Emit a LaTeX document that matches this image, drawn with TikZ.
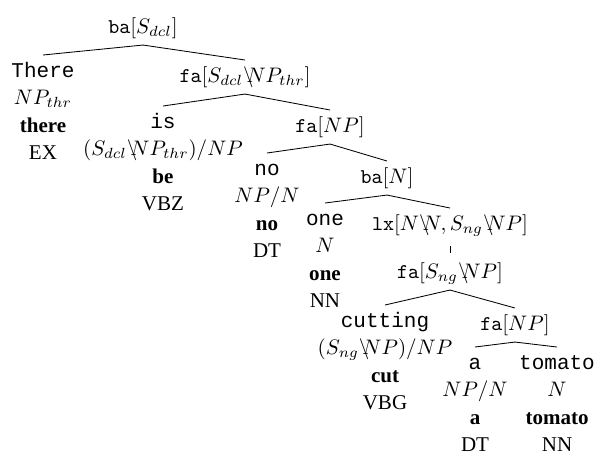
\documentclass[tikz,border=0pt]{standalone}
\usepackage{fontspec}
\setmainfont{Liberation Serif}
\newfontfamily\tokfont{Liberation Mono}
\newcommand{\tok}[1]{{\tokfont #1}}
\newcommand{\comb}[2]{\strut\texttt{#1}$[#2]$}
\newcommand{\leaf}[4]{\strut\tok{#1}\\ $#2$\\ \textbf{#3}\\ #4}
\newcommand{\bs}{\backslash\mkern-6mu}

\begin{document}
\begin{tikzpicture}[x=0.476pt,y=-0.476pt,
   every node/.style={anchor=north,inner sep=1.4pt,align=center,
      font=\fontsize{10}{13}\selectfont}]
   \useasboundingbox (0,0) rectangle (595,454);
   \node (root)    at (143,11)  {\comb{ba}{S_{dcl}}};
   \node (there)   at (43,55)   {\leaf{There}{NP_{thr}}{there}{EX}};
   \node (fadcl)   at (245,60)  {\comb{fa}{S_{dcl}\bs NP_{thr}}};
   \node (is)      at (163,106) {\leaf{is}{(S_{dcl}\bs NP_{thr})/NP}{be}{VBZ}};
   \node (fanp)    at (330,110) {\comb{fa}{NP}};
   \node (no)      at (267,153) {\leaf{no}{NP/N}{no}{DT}};
   \node (ban)     at (387,161) {\comb{ba}{N}};
   \node (one)     at (325,203) {\leaf{one}{N}{one}{NN}};
   \node (lx)      at (450,208) {\comb{lx}{N\bs N, S_{ng}\bs NP}};
   \node (fang)    at (450,256) {\comb{fa}{S_{ng}\bs NP}};
   \node (cutting) at (385,305) {\leaf{cutting}{(S_{ng}\bs NP)/NP}{cut}{VBG}};
   \node (fanpb)   at (515,308) {\comb{fa}{NP}};
   \node (a)       at (475,347) {\leaf{a}{NP/N}{a}{DT}};
   \node (tomato)  at (557,347) {\leaf{tomato}{N}{tomato}{NN}};
   \draw (root.south) -- (there.north);
   \draw (root.south) -- (fadcl.north);
   \draw (fadcl.south) -- (is.north);
   \draw (fadcl.south) -- (fanp.north);
   \draw (fanp.south) -- (no.north);
   \draw (fanp.south) -- (ban.north);
   \draw (ban.south) -- (one.north);
   \draw (ban.south) -- (lx.north);
   \draw[shorten <=2pt,shorten >=1.5pt] (lx.south) -- (fang.north);
   \draw (fang.south) -- (cutting.north);
   \draw (fang.south) -- (fanpb.north);
   \draw (fanpb.south) -- (a.north);
   \draw (fanpb.south) -- (tomato.north);
\end{tikzpicture}
\end{document}
